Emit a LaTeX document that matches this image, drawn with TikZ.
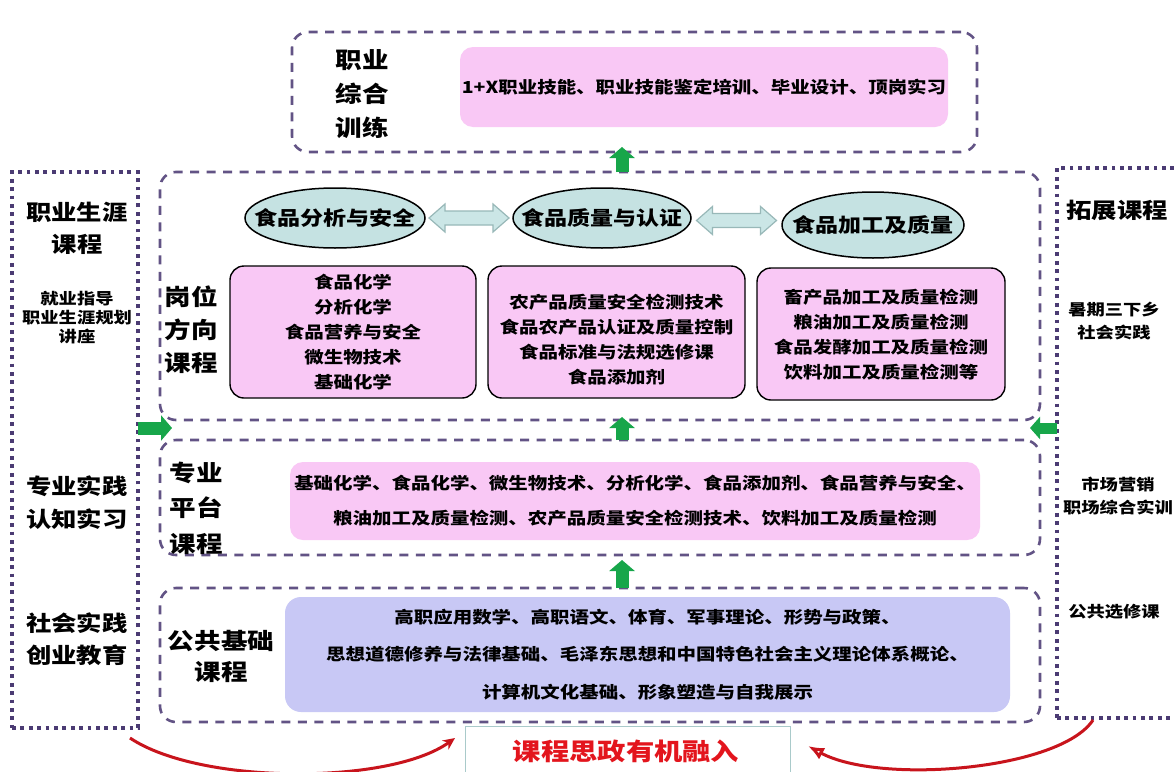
\documentclass[tikz,border=0pt]{standalone}
\usepackage{fontspec}
\setmainfont{Noto Sans CJK SC}[FakeStretch=1.18]
\usetikzlibrary{shapes.geometric,arrows.meta,calc}
\definecolor{dashc}{HTML}{625385}
\definecolor{dotc}{HTML}{4B3B73}
\definecolor{pinkc}{HTML}{F9C8F5}
\definecolor{lavc}{HTML}{C8C8F5}
\definecolor{ellc}{HTML}{C5E2E2}
\definecolor{darrc}{HTML}{CBE6E6}
\definecolor{darrl}{HTML}{98B8B8}
\definecolor{grn}{HTML}{17A64A}
\definecolor{redc}{HTML}{C8141C}
\definecolor{redt}{HTML}{E3151D}
\definecolor{bbox}{HTML}{A9CACA}
\begin{document}
\begin{tikzpicture}[x=1pt,y=-1pt,
  every node/.style={inner sep=0pt,outer sep=0pt},
  dashbox/.style={draw=dashc,line width=2.6pt,dash pattern=on 9pt off 7.5pt,rounded corners=16pt},
  dotbox/.style={draw=dotc,line width=3.8pt,dash pattern=on 3.8pt off 4.6pt},
  pinkbox/.style={fill=pinkc,rounded corners=13pt},
  lavbox/.style={fill=lavc,rounded corners=16pt},
  coursebox/.style={fill=pinkc,draw=black,line width=1.4pt,rounded corners=14pt},
  ell/.style={ellipse,fill=ellc,draw=black,line width=1.5pt},
  elltext/.style={font=\fontsize{19.5}{20}\selectfont\bfseries},
  darr/.style={fill=darrc,draw=darrl,line width=1.2pt,line join=miter},
  biglabel/.style={font=\fontsize{22.5}{34}\selectfont\bfseries,align=center},
  bodytext/.style={font=\fontsize{16.5}{25}\selectfont\bfseries,align=center},
  sidehead/.style={font=\fontsize{21.5}{32}\selectfont\bfseries,align=center},
  sidesmall/.style={font=\fontsize{15.5}{23}\selectfont\bfseries,align=center},
  garrow/.style={draw=grn,line width=13pt,-{Triangle[length=11pt,width=25pt]}},
  redarrow/.style={draw=redc,line width=3pt},
]
\useasboundingbox (0,0) rectangle (1174,771);
\clip (0,0) rectangle (1174,771);
\fill[white] (0,0) rectangle (1174,771);

% outer dashed layers
\node[dashbox,minimum width=685pt,minimum height=120pt] (top) at (634.5,92) {};
\node[dashbox,minimum width=880pt,minimum height=248pt] (mid) at (600,296) {};
\node[dashbox,minimum width=880pt,minimum height=115pt] (plat) at (600,497.5) {};
\node[dashbox,minimum width=880pt,minimum height=134pt] (pub) at (600,655) {};

% side dotted boxes
\node[dotbox,minimum width=126pt,minimum height=556pt] (L) at (75,450) {};
\node[dotbox,minimum width=128pt,minimum height=550pt] (R) at (1121,443) {};

% top layer
\node[biglabel] (toplab) at (362,94) {职业\\综合\\训练};
\node[pinkbox,minimum width=488pt,minimum height=80pt] (toppink) at (704,87) {};
\node[bodytext] (toptext) at (toppink) {1+X职业技能、职业技能鉴定培训、毕业设计、顶岗实习};

% middle layer
\node[biglabel,font=\fontsize{22.5}{33}\selectfont\bfseries] (midlab) at (191,330) {岗位\\方向\\课程};
\node[ell,minimum width=180pt,minimum height=60pt] (e1) at (335,218) {};
\node[elltext] (e1t) at (e1) {食品分析与安全};
\node[ell,minimum width=178pt,minimum height=60pt] (e2) at (602,218) {};
\node[elltext] (e2t) at (e2) {食品质量与认证};
\node[ell,minimum width=182pt,minimum height=66pt] (e3) at (873,225) {};
\node[elltext] (e3t) at (e3) {食品加工及质量};
\coordinate (d1) at ($(e1.east)!0.5!(e2.west)$);
\coordinate (d2) at ($(e2.east)!0.5!(e3.west)+(0,-1)$);
\foreach \d in {d1,d2}{
  \draw[darr] ($(\d)+(-40,0)$) -- ++(16,-14) -- ++(0,7) -- ++(48,0) -- ++(0,-7)
     -- ++(16,14) -- ++(-16,14) -- ++(0,-7) -- ++(-48,0) -- ++(0,7) -- cycle;
}

\node[coursebox,minimum width=246pt,minimum height=132pt] (b1) at (353,332) {};
\node[bodytext] (b1t) at (353,332) {食品化学\\分析化学\\食品营养与安全\\微生物技术\\基础化学};
\node[coursebox,minimum width=257pt,minimum height=132pt] (b2) at (616.5,332) {};
\node[bodytext] (b2t) at (616.5,340) {农产品质量安全检测技术\\食品农产品认证及质量控制\\食品标准与法规选修课\\食品添加剂};
\node[coursebox,minimum width=248pt,minimum height=132pt] (b3) at (881,334) {};
\node[bodytext] (b3t) at (881,335) {畜产品加工及质量检测\\粮油加工及质量检测\\食品发酵加工及质量检测\\饮料加工及质量检测等};

% platform layer
\node[biglabel,font=\fontsize{22.5}{35.5}\selectfont\bfseries] (platlab) at (196,508) {专业\\平台\\课程};
\node[pinkbox,minimum width=690pt,minimum height=78pt] (platpink) at (635,501) {};
\node[bodytext,font=\fontsize{16.5}{35}\selectfont\bfseries] (plattext) at (platpink) {基础化学、食品化学、微生物技术、分析化学、食品添加剂、食品营养与安全、\\粮油加工及质量检测、农产品质量安全检测技术、饮料加工及质量检测};

% public layer
\node[biglabel,font=\fontsize{22.5}{31}\selectfont\bfseries] (publab) at (221,656) {公共基础\\课程};
\node[lavbox,minimum width=725pt,minimum height=115pt] (publav) at (647.5,654.5) {};
\node[bodytext,font=\fontsize{16.5}{37.5}\selectfont\bfseries] (pubtext) at (publav) {高职应用数学、高职语文、体育、军事理论、形势与政策、\\思想道德修养与法律基础、毛泽东思想和中国特色社会主义理论体系概论、\\计算机文化基础、形象塑造与自我展示};

% left side texts
\node[sidehead] (l1) at (77,228) {职业生涯\\课程};
\node[sidesmall,font=\fontsize{15.5}{19}\selectfont\bfseries] (l2) at (77,318) {就业指导\\职业生涯规划\\讲座};
\node[sidehead,font=\fontsize{21.5}{33}\selectfont\bfseries] (l3) at (77,503) {专业实践\\认知实习};
\node[sidehead] (l4) at (77,639) {社会实践\\创业教育};

% right side texts
\node[sidehead] (r1) at (1117,210) {拓展课程};
\node[sidesmall] (r2) at (1114,321) {暑期三下乡\\社会实践};
\node[sidesmall] (r3) at (1118,496) {市场营销\\职场综合实训};
\node[sidesmall] (r4) at (1114,612) {公共选修课};

% green arrows
\coordinate (ax) at (622,0);
\coordinate (ay) at (0,428);
\draw[garrow] (mid.north -| ax) -- ($(top.south -| ax)+(0,-5)$);
\draw[garrow] (plat.north -| ax) -- ($(mid.south -| ax)+(0,-3)$);
\draw[garrow] (pub.north -| ax) -- ($(plat.south -| ax)+(0,5)$);
\draw[garrow] (L.east |- ay) -- ($(mid.west |- ay)+(12,0)$);
\draw[garrow,line width=11pt,-{Triangle[length=10pt,width=22pt]}] (R.west |- ay) -- ($(mid.east |- ay)+(-10,0)$);

% bottom
\node[draw=bbox,line width=0.8pt,minimum width=325pt,minimum height=70pt] (bb) at (627.5,761) {};
\node[font=\fontsize{24}{24}\selectfont\bfseries,text=redt] (bt) at (626,751) {课程思政有机融入};
\draw[redarrow,-{Stealth[length=12pt,width=11pt]}] ($(L.south east)+(-8,10)$) .. controls (200,785) and (390,785) .. ($(bb.north west)+(-10,12)$);
\draw[redarrow,-{Latex[open,length=16pt,width=13pt]}] ($(R.south west)+(36,2)$) .. controls (1060,770) and (880,785) .. ($(bb.north east)+(18,20)$);
\end{tikzpicture}
\end{document}
